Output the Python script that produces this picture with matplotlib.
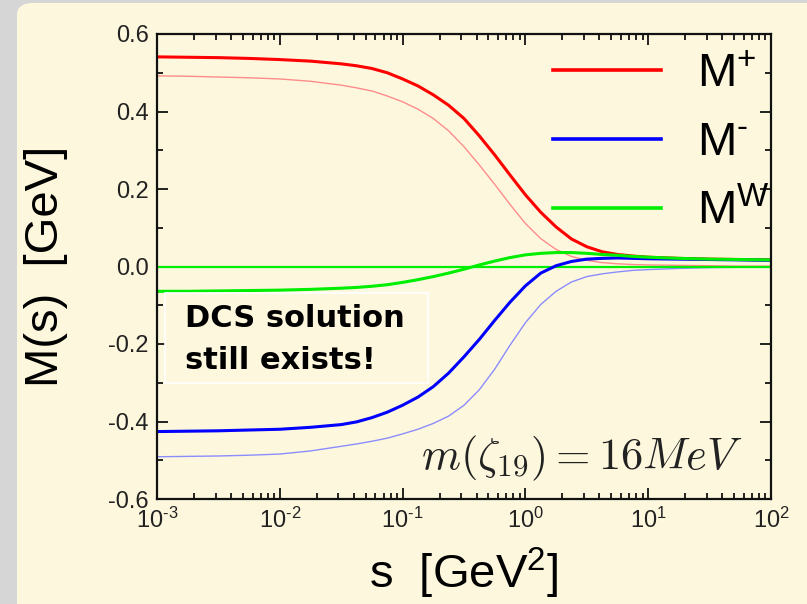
import numpy as np
import matplotlib
matplotlib.use("Agg")
import matplotlib.pyplot as plt
from matplotlib.patches import FancyBboxPatch, Rectangle
from matplotlib.ticker import LogLocator, MultipleLocator, FixedLocator, FixedFormatter

plt.rcParams['font.family'] = ['Liberation Sans', 'DejaVu Sans']
plt.rcParams['mathtext.fontset'] = 'custom'
plt.rcParams['mathtext.rm'] = 'Liberation Sans'
plt.rcParams['mathtext.it'] = 'Liberation Sans'
plt.rcParams['mathtext.bf'] = 'Liberation Sans:bold'

# ---- data ----
log_s = [-3, -2.75, -2.5, -2.25, -2, -1.75, -1.5, -1.375, -1.25, -1.125, -1,
         -0.875, -0.75, -0.625, -0.5, -0.375, -0.25, -0.125, 0, 0.125, 0.25,
         0.375, 0.5, 0.625, 0.75, 0.875, 1, 1.25, 1.5, 1.75, 2]
m_plus = [0.541, 0.540, 0.539, 0.537, 0.534, 0.530, 0.523, 0.518, 0.511, 0.500, 0.484,
          0.466, 0.443, 0.416, 0.382, 0.337, 0.288, 0.236, 0.185, 0.140, 0.102,
          0.071, 0.051, 0.038, 0.031, 0.027, 0.024, 0.021, 0.019, 0.018, 0.017]
m_plus_thin = [0.492, 0.491, 0.489, 0.487, 0.484, 0.478, 0.468, 0.461, 0.453, 0.440, 0.425,
               0.406, 0.382, 0.350, 0.309, 0.262, 0.212, 0.160, 0.111, 0.072, 0.044,
               0.026, 0.016, 0.010, 0.007, 0.005, 0.004, 0.003, 0.002, 0.001, 0.001]
m_minus = [-0.426, -0.425, -0.424, -0.422, -0.420, -0.415, -0.408, -0.401, -0.390, -0.376, -0.358,
           -0.337, -0.310, -0.275, -0.233, -0.188, -0.139, -0.092, -0.050, -0.017, 0.002,
           0.013, 0.019, 0.021, 0.022, 0.021, 0.020, 0.019, 0.018, 0.017, 0.016]
m_minus_thin = [-0.491, -0.490, -0.489, -0.487, -0.484, -0.476, -0.464, -0.458, -0.451, -0.443, -0.432,
                -0.420, -0.405, -0.386, -0.358, -0.318, -0.265, -0.203, -0.145, -0.098, -0.064,
                -0.040, -0.026, -0.019, -0.014, -0.010, -0.008, -0.005, -0.003, -0.002, -0.002]
m_w = [-0.064, -0.064, -0.063, -0.062, -0.061, -0.059, -0.056, -0.054, -0.051, -0.047, -0.041,
       -0.034, -0.026, -0.017, -0.007, 0.004, 0.014, 0.023, 0.030, 0.034, 0.036,
       0.036, 0.034, 0.031, 0.029, 0.026, 0.024, 0.021, 0.019, 0.018, 0.017]
m_w_thin = [0.0] * len(log_s)

legend_labels = ["M$^{+}$", "M$^{\\text{-}}$", "M$^{\\mathrm{W}}$"]
x_ticks = [1e-3, 1e-2, 1e-1, 1e0, 1e1, 1e2]
x_ticklabels = ["10$^{\\text{-}3}$", "10$^{\\text{-}2}$", "10$^{\\text{-}1}$",
                "10$^{0}$", "10$^{1}$", "10$^{2}$"]
y_ticks = [-0.6, -0.4, -0.2, 0.0, 0.2, 0.4, 0.6]
y_ticklabels = ["-0.6", "-0.4", "-0.2", "0.0", "0.2", "0.4", "0.6"]

s = 10.0 ** np.array(log_s)

cream = "#FDF8DD"
fig = plt.figure(figsize=(8.07, 6.04), dpi=100, facecolor="#d6d6d6")
panel = FancyBboxPatch((17 / 807, -0.1), 1.2, 601 / 604 + 0.1, boxstyle="round,pad=0,rounding_size=0.02",
                       transform=fig.transFigure, facecolor=cream, edgecolor="none", zorder=-10)
fig.patches.append(panel)

ax = fig.add_axes([157 / 807, 1 - 499 / 604, (771 - 157) / 807, (499 - 34) / 604])
ax.set_zorder(5)
ax.set_facecolor(cream)

ax.plot(s, m_plus_thin, color="#FF8C8C", lw=1.0)
ax.plot(s, m_minus_thin, color="#8C8CFF", lw=1.0)
ax.plot(s, m_w_thin, color="#00EE00", lw=1.6)
l1, = ax.plot(s, m_plus, color="#FF0000", lw=2.2)
l2, = ax.plot(s, m_minus, color="#0000FF", lw=2.2)
l3, = ax.plot(s, m_w, color="#00EE00", lw=2.2)

ax.set_xscale("log")
ax.set_xlim(1e-3, 1e2)
ax.set_ylim(-0.6, 0.6)
ax.xaxis.set_major_locator(FixedLocator(x_ticks))
ax.xaxis.set_major_formatter(FixedFormatter(x_ticklabels))
ax.xaxis.set_minor_locator(LogLocator(base=10, subs=np.arange(2, 10), numticks=20))
ax.xaxis.set_minor_formatter(plt.NullFormatter())
ax.yaxis.set_major_locator(FixedLocator(y_ticks))
ax.yaxis.set_major_formatter(FixedFormatter(y_ticklabels))
ax.yaxis.set_minor_locator(MultipleLocator(0.1))

ax.tick_params(which="both", direction="in", top=True, right=True, width=1.3, color="#111111")
ax.tick_params(which="major", length=8, labelsize=17, labelcolor="#222222", pad=6)
ax.tick_params(which="minor", length=4)
for sp in ax.spines.values():
    sp.set_linewidth(1.6)
    sp.set_color("#111111")

ax.set_ylabel("M(s)  [GeV]", fontsize=34)
ax.yaxis.set_label_coords(-0.145, 0.5)
ax.set_xlabel("s  [GeV$^{2}$]", fontsize=34)
ax.xaxis.set_label_coords(0.5, -0.10)

leg = ax.legend([l1, l2, l3], legend_labels, loc="upper right", bbox_to_anchor=(1.036, 1.011),
                frameon=False, fontsize=34, handlelength=2.3, handletextpad=0.75,
                labelspacing=0.52, borderaxespad=0.1)
for line in leg.get_lines():
    line.set_linewidth(2.6)

ax.text(0.954, 0.087, r"$m(\zeta_{19})=16MeV$", transform=ax.transAxes, ha="right", va="center",
        fontsize=32, math_fontfamily="cm", color="#222222")

ax.add_patch(Rectangle((0.013, 0.249), 0.428, 0.194, transform=ax.transAxes,
                       facecolor=cream, edgecolor="white", linewidth=1.2, zorder=4))
ax.text(0.046, 0.343, "DCS solution\nstill exists!", transform=ax.transAxes, ha="left", va="center",
        fontsize=22, fontweight="bold", family=["DejaVu Sans"], linespacing=1.55, zorder=5)

fig.savefig("out.png", dpi=100, facecolor=fig.get_facecolor())
